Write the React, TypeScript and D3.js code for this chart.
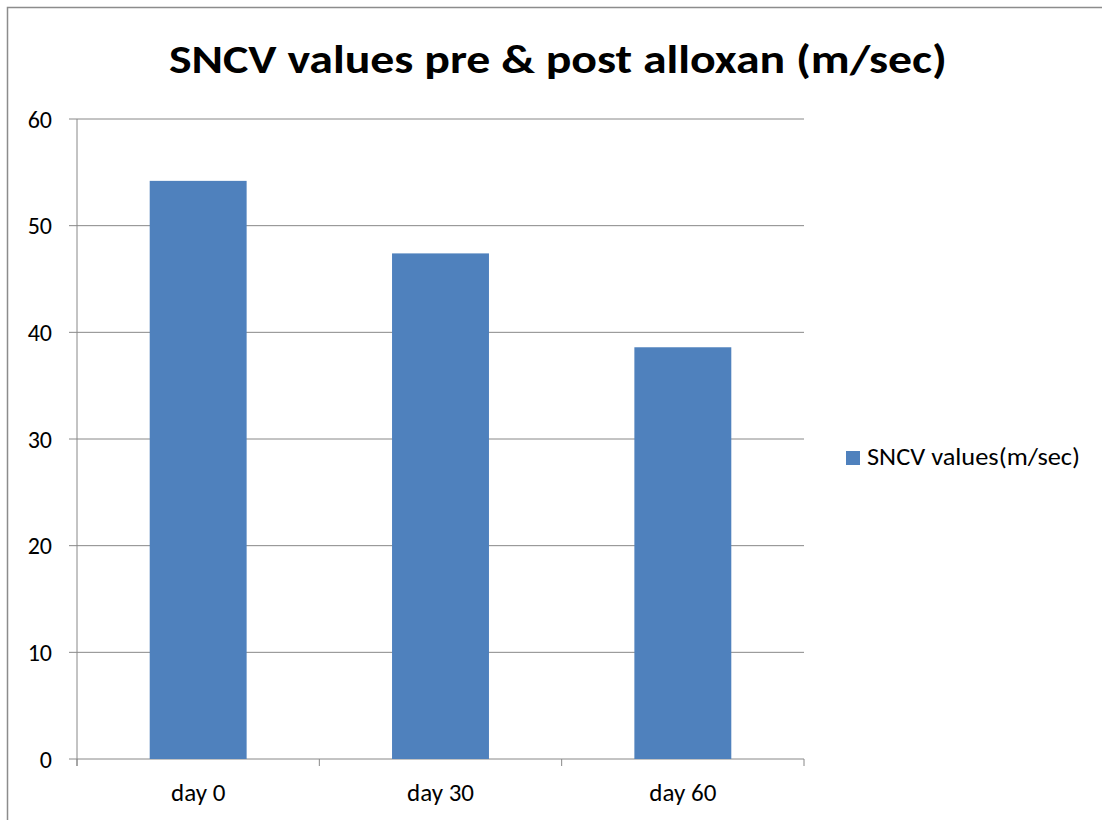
import * as d3 from "d3";

const categories = ["day 0", "day 30", "day 60"];
const sncvValues = [54.2, 47.4, 38.6];
const yTicks = [0, 10, 20, 30, 40, 50, 60];
const seriesName = "SNCV values(m/sec)";
const title = "SNCV values pre & post alloxan (m/sec)";

const width = 1102;
const height = 820;
const plot = { left: 77, right: 804, top: 119, bottom: 759 };
const font = "Carlito, Lato, 'Open Sans', sans-serif";
const barColor = "#4f81bd";
const lineColor = "#888888";

function App() {
  const x = d3
    .scaleBand()
    .domain(categories)
    .range([plot.left, plot.right])
    .paddingInner(0.6)
    .paddingOuter(0.3);
  const y = d3.scaleLinear().domain([0, 60]).range([plot.bottom, plot.top]);

  // category boundaries for the x tick marks
  const step = (plot.right - plot.left) / categories.length;
  const xBounds = d3.range(categories.length + 1).map((i) => plot.left + i * step);

  return (
    <svg
      width={width}
      height={height}
      style={{ position: "absolute", left: 0, top: 0, background: "#fff" }}
    >
      <rect x={7.5} y={7.5} width={width} height={height} fill="none" stroke="#8c8c8c" strokeWidth={1.5} />
      <text
        x={169}
        y={73}
        fontFamily={font}
        fontWeight="bold"
        fontSize={41}
        textLength={778}
        lengthAdjust="spacingAndGlyphs"
        fill="#000"
      >
        {title}
      </text>

      {yTicks.map((t) => (
        <g key={t}>
          <line x1={plot.left - 8} x2={plot.right} y1={y(t)} y2={y(t)} stroke={lineColor} strokeWidth={1} />
          <text
            x={plot.left - 25}
            y={y(t)}
            dy="0.36em"
            textAnchor="end"
            fontFamily={font}
            fontSize={24}
            fill="#000"
          >
            {t}
          </text>
        </g>
      ))}

      {categories.map((c, i) => (
        <rect
          key={c}
          x={x(c)}
          y={y(sncvValues[i])}
          width={x.bandwidth()}
          height={y(0) - y(sncvValues[i])}
          fill={barColor}
        />
      ))}

      <line x1={plot.left} x2={plot.left} y1={plot.top} y2={plot.bottom + 7} stroke={lineColor} strokeWidth={1} />
      {xBounds.map((b, i) => (
        <line key={i} x1={b} x2={b} y1={plot.bottom} y2={plot.bottom + 7} stroke={lineColor} strokeWidth={1} />
      ))}
      {categories.map((c) => (
        <text
          key={c}
          x={(x(c) ?? 0) + x.bandwidth() / 2}
          y={801}
          textAnchor="middle"
          fontFamily={font}
          fontSize={25}
          fill="#000"
        >
          {c}
        </text>
      ))}

      <rect x={846} y={451} width={14} height={14} fill={barColor} />
      <text
        x={867}
        y={465}
        fontFamily={font}
        fontSize={24}
        textLength={213}
        lengthAdjust="spacingAndGlyphs"
        fill="#000"
      >
        {seriesName}
      </text>
    </svg>
  );
}

export default App;
